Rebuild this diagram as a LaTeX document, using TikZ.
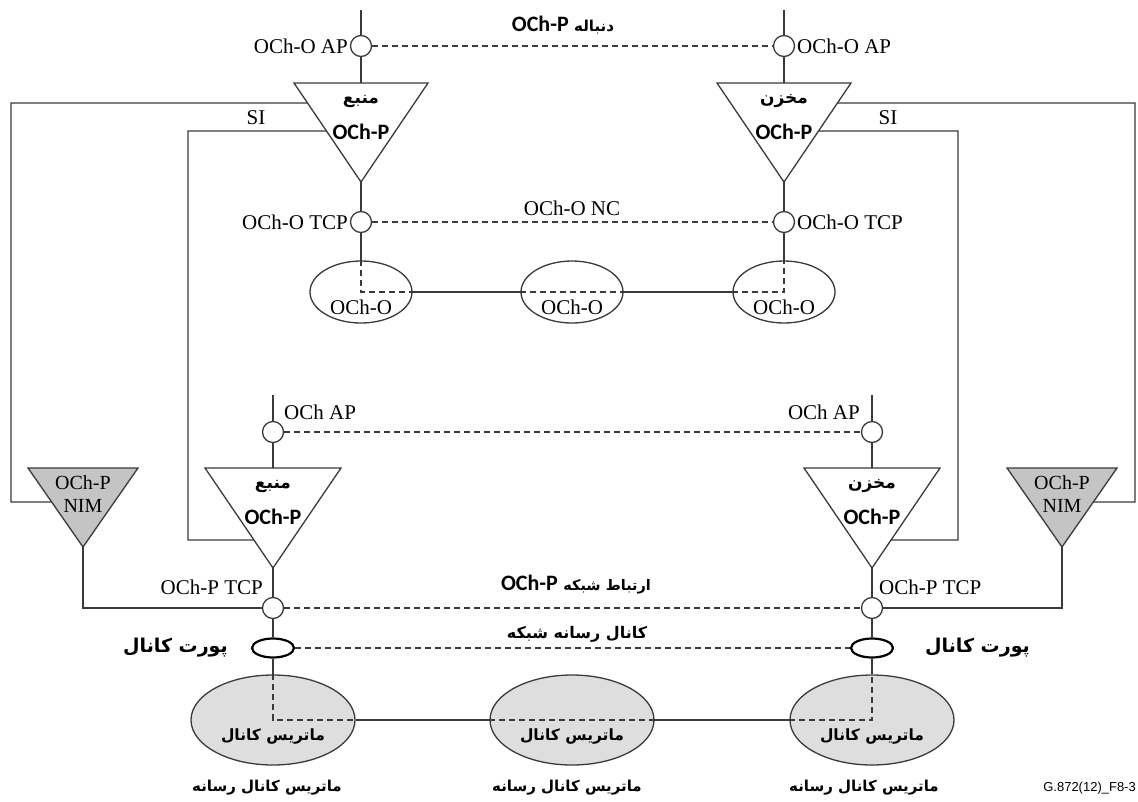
\documentclass[tikz,border=0pt]{standalone}
\usepackage{fontspec}
\setmainfont{Liberation Serif}
\newfontfamily\arabicfont[Script=Arabic]{DejaVu Sans}
\newfontfamily\calib{Carlito}
\newfontfamily\figsans{Liberation Sans}
\TeXXeTstate=1
\usetikzlibrary{calc,shapes.geometric}

% Persian text, bold, right to left
\newcommand\prs[1]{{\arabicfont\bfseries\beginR #1\endR}}
% bold OCh-P tag
\newcommand\ochp{{\calib\bfseries OCh-P}}

% inverted triangle: name, centre x, top y, half width, height, fill
\newcommand\invtri[6]{%
  \coordinate (#1-l) at (#2-#4,#3);
  \coordinate (#1-r) at (#2+#4,#3);
  \coordinate (#1-a) at (#2,#3+#5);
  \coordinate (#1-t) at (#2,#3);
  \draw[line, fill=#6] (#1-l) -- (#1-r) -- (#1-a) -- cycle;}

\definecolor{linec}{HTML}{3A3A3A}
\definecolor{nimgray}{HTML}{C4C4C4}
\definecolor{matgray}{HTML}{DEDEDE}

\begin{document}
\begin{tikzpicture}[x=1pt,y=-1pt,
  line/.style={draw=linec, line width=1.3pt},
  dashline/.style={draw=linec, line width=1.3pt, dash pattern=on 6pt off 4pt},
  cp/.style={circle, draw=linec, fill=white, line width=1.3pt, minimum size=21pt, inner sep=0pt},
  port/.style={ellipse, draw=black, fill=white, line width=2.2pt, minimum width=42pt, minimum height=19pt, inner sep=0pt},
  oell/.style={ellipse, draw=linec, fill=white, line width=1.3pt, minimum width=102pt, minimum height=62pt, inner sep=0pt},
  mell/.style={ellipse, draw=linec, fill=matgray, line width=1.3pt, minimum width=164pt, minimum height=90pt, inner sep=0pt},
  lbl/.style={font=\fontsize{21}{24}\selectfont, inner sep=0pt, text=black},
  tag/.style={font=\fontsize{22}{25}\selectfont, inner sep=0pt, text=black},
  fatri/.style={font=\fontsize{17}{20}\selectfont, inner sep=0pt, text=black},
  fatxt/.style={font=\fontsize{15}{18}\selectfont, inner sep=0pt, text=black},
  fabig/.style={font=\fontsize{19}{22}\selectfont, inner sep=0pt, text=black}]
\useasboundingbox (0,0) rectangle (1138,801);

% ---- adaptation / termination triangles
\invtri{TA}{361}{83}{67}{99}{white}
\invtri{TB}{784}{83}{67}{99}{white}
\invtri{BA}{273}{468}{68}{100}{white}
\invtri{BB}{872}{468}{68}{100}{white}
\invtri{NA}{83}{468}{55}{79}{nimgray}
\invtri{NB}{1062}{468}{55}{79}{nimgray}

% ---- ellipses (OCh-O layer and media channel matrices)
\node[oell] (oA) at (361,292) {};
\node[oell] (oM) at (572,292) {};
\node[oell] (oB) at (784,292) {};
\node[mell] (mA) at (273,720) {};
\node[mell] (mM) at (572,720) {};
\node[mell] (mB) at (872,720) {};

% ---- connection points
\node[cp] (apA)  at (361,46)  {};
\node[cp] (apB)  at (784,46)  {};
\node[cp] (tcpA) at (361,222) {};
\node[cp] (tcpB) at (784,222) {};
\node[cp] (capA) at (273,432) {};
\node[cp] (capB) at (872,432) {};
\node[cp] (ptA)  at (273,608) {};
\node[cp] (ptB)  at (872,608) {};
\node[port] (portA) at (273,648) {};
\node[port] (portB) at (872,648) {};

\coordinate (topA) at (361,10);
\coordinate (topB) at (784,10);
\coordinate (ctopA) at (273,395);
\coordinate (ctopB) at (872,395);

% ---- upper trail
\draw[line] (topA) -- (apA) -- (TA-t);
\draw[line] (TA-a) -- (tcpA) -- (oA.north);
\draw[dashline] (oA.north) -- (oA.center) -- (oA.east);
\draw[line] (oA.east) -- (oM.west);
\draw[dashline] (oM.west) -- (oM.east);
\draw[line] (oM.east) -- (oB.west);
\draw[dashline] (oB.west) -- (oB.center) -- (oB.north);
\draw[line] (oB.north) -- (tcpB) -- (TB-a);
\draw[line] (TB-t) -- (apB) -- (topB);

% ---- lower trail
\draw[line] (ctopA) -- (capA) -- (BA-t);
\draw[line] (BA-a) -- (ptA) -- (portA) -- (mA.north);
\draw[dashline] (mA.north) -- (mA.center) -- (mA.east);
\draw[line] (mA.east) -- (mM.west);
\draw[dashline] (mM.west) -- (mM.east);
\draw[line] (mM.east) -- (mB.west);
\draw[dashline] (mB.west) -- (mB.center) -- (mB.north);
\draw[line] (mB.north) -- (portB) -- (ptB) -- (BB-a);
\draw[line] (BB-t) -- (capB) -- (ctopB);

% ---- dashed associations
\draw[dashline] (apA) -- (apB);
\draw[dashline] (tcpA) -- (tcpB);
\draw[dashline] (capA) -- (capB);
\draw[dashline] (ptA) -- (ptB);
\draw[dashline] (portA) -- (portB);

% ---- outer loops (NIM and SI)
\draw[line] ($(TA-l)!0.202!(TA-a)$) -| (11,502) -- ($(NA-l)!0.43!(NA-a)$);
\draw[line] ($(TA-l)!0.485!(TA-a)$) -| (188,540) -- ($(BA-l)!0.72!(BA-a)$);
\draw[line] (NA-a) |- (ptA);
\draw[line] ($(TB-r)!0.202!(TB-a)$) -| (1135,502) -- ($(NB-r)!0.43!(NB-a)$);
\draw[line] ($(TB-r)!0.485!(TB-a)$) -| (958,540) -- ($(BB-r)!0.72!(BB-a)$);
\draw[line] (NB-a) |- (ptB);

% ---- triangle texts
\node[fatri] (tA1) at (361,101) {\prs{منبع}};
\node[tag]   (tA2) at (361,132) {\ochp};
\node[fatri] (tB1) at (784,101) {\prs{مخزن}};
\node[tag]   (tB2) at (784,132) {\ochp};
\node[fatri] (bA1) at (273,486) {\prs{منبع}};
\node[tag]   (bA2) at (273,517) {\ochp};
\node[fatri] (bB1) at (872,486) {\prs{مخزن}};
\node[tag]   (bB2) at (872,517) {\ochp};
\node[lbl, align=center, font=\fontsize{20}{23}\selectfont] (nA) at (83,494) {OCh-P\\NIM};
\node[lbl, align=center, font=\fontsize{20}{23}\selectfont] (nB) at (1062,494) {OCh-P\\NIM};

% ---- ellipse texts of the OCh-O layer
\node[lbl] (oAt) at (361,307) {OCh-O};
\node[lbl] (oMt) at (572,307) {OCh-O};
\node[lbl] (oBt) at (784,307) {OCh-O};

% ---- point labels
\node[lbl, anchor=east] (lapA) at (348,46) {OCh-O AP};
\node[lbl, anchor=west] (lapB) at (797,46) {OCh-O AP};
\node[lbl, anchor=east] (ltcpA) at (348,222) {OCh-O TCP};
\node[lbl, anchor=west] (ltcpB) at (797,222) {OCh-O TCP};
\node[lbl] (lnc) at (572,208) {OCh-O NC};
\node[lbl] (lsiA) at (256,118) {SI};
\node[lbl] (lsiB) at (888,118) {SI};
\node[lbl, anchor=west] (lcapA) at (284,412) {OCh AP};
\node[lbl, anchor=east] (lcapB) at (860,412) {OCh AP};
\node[lbl, anchor=east] (lptA) at (263,587) {OCh-P TCP};
\node[lbl, anchor=west] (lptB) at (879,587) {OCh-P TCP};

\node[inner sep=0pt] (ltrail1) at (563,25) {\fontsize{22}{25}\selectfont\ochp\ \fontsize{15}{18}\selectfont\prs{دنباله}};
\node[inner sep=0pt] (lnet) at (576,585) {\fontsize{22}{25}\selectfont\ochp\ \fontsize{14.5}{18}\selectfont\prs{ارتباط شبکه}};
\node[font=\fontsize{16}{19}\selectfont, inner sep=0pt] (lmc) at (577,634) {\prs{کانال رسانه شبکه}};

\node[fabig, anchor=east] (lportA) at (228,648) {\prs{پورت کانال}};
\node[fabig, anchor=west] (lportB) at (925,648) {\prs{پورت کانال}};

% ---- matrix texts
\node[font=\fontsize{15.5}{18}\selectfont, inner sep=0pt] (mtA) at (273,736) {\prs{ماتریس کانال}};
\node[font=\fontsize{15.5}{18}\selectfont, inner sep=0pt] (mtM) at (572,736) {\prs{ماتریس کانال}};
\node[font=\fontsize{15.5}{18}\selectfont, inner sep=0pt] (mtB) at (872,736) {\prs{ماتریس کانال}};
\node[fatxt] (mlA) at (267,788) {\prs{ماتریس کانال رسانه}};
\node[fatxt] (mlM) at (567,788) {\prs{ماتریس کانال رسانه}};
\node[fatxt] (mlB) at (864,788) {\prs{ماتریس کانال رسانه}};

\node[inner sep=0pt, anchor=east, font=\figsans\fontsize{13}{15}\selectfont] (fig) at (1136,788) {G.872(12)\_F8-3};
\end{tikzpicture}
\end{document}
